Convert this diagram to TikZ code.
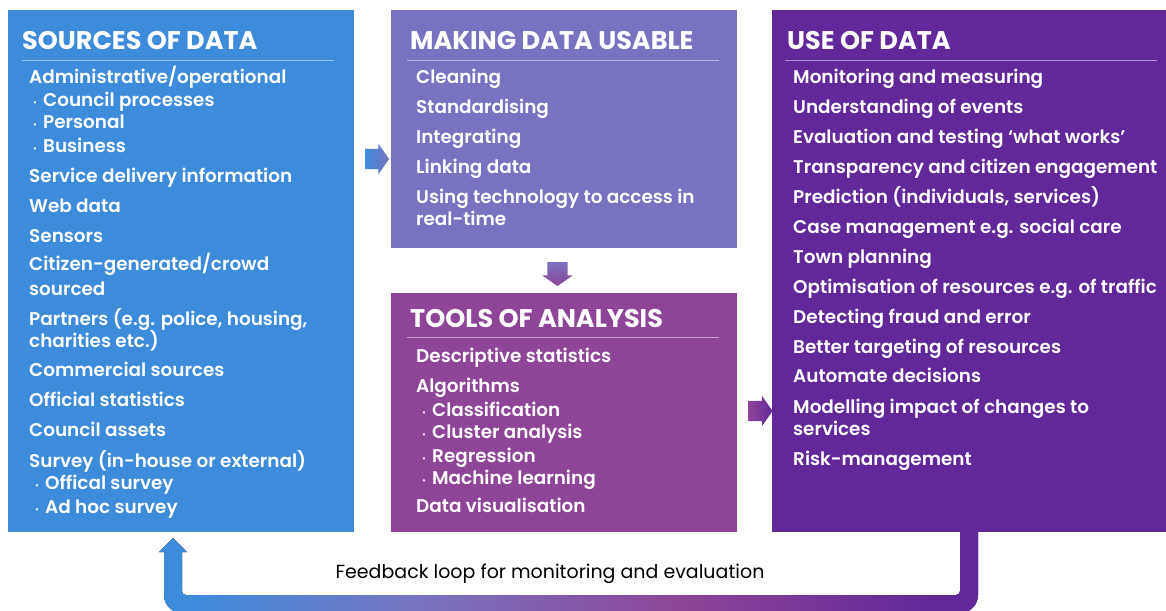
\documentclass[tikz,border=0pt]{standalone}
\usepackage{fontspec}
\setmainfont{Poppins}[UprightFont=* SemiBold, BoldFont=* Bold]
\newfontfamily\plainfont{Poppins}
\usetikzlibrary{shapes.arrows}

\definecolor{srcblue}{HTML}{3D8BDB}
\definecolor{usablelilac}{HTML}{7873C0}
\definecolor{toolsplum}{HTML}{8E4598}
\definecolor{usepurple}{HTML}{62289A}

% blue -> lilac -> plum -> purple along the feedback band
\pgfdeclarehorizontalshading{loopshade}{100bp}{color(0bp)=(srcblue); color(27bp)=(srcblue); color(41bp)=(usablelilac); color(57bp)=(toolsplum); color(72bp)=(usepurple); color(100bp)=(usepurple)}

\newcommand\bul{\makebox[10pt][l]{\raisebox{1pt}{\footnotesize\textbullet}}}

\tikzset{
  panel/.style={anchor=north west, inner sep=0, outer sep=0, minimum width=346pt},
  heading/.style={anchor=base west, inner sep=0, text=white, font=\fontsize{25.5}{28}\selectfont\bfseries},
  entry/.style={anchor=base west, inner sep=0, text=white, font=\fontsize{18.4}{22}\selectfont},
  divider/.style={draw=white!50!#1, line width=0.8pt},
  blockarrow/.style={single arrow, inner xsep=0, inner ysep=10pt, minimum height=24pt, single arrow head extend=5pt, single arrow tip angle=110},
}

\begin{document}
\begin{tikzpicture}[x=1pt, y=-1pt]
  \useasboundingbox (0,0) rectangle (1166,610);

  % Feedback loop (under the panels)
  \fill[shading=loopshade] (173,538) -- (187,552) -- (182,552) [rounded corners=4pt] -- (182,595) -- (960,595) [sharp corners] -- (960,528) -- (978,528) [rounded corners=18pt] -- (978,613) -- (164,613) [sharp corners] -- (164,552) -- (159,552) -- cycle;
  \node[anchor=base, inner sep=0, font=\plainfont\fontsize{19}{22}\selectfont] (fbtext) at (550,578) {Feedback loop for monitoring and evaluation};

  % Panels
  \node[panel, fill=srcblue, minimum height=522pt] (srcbox) at (8,10) {};
  \node[panel, fill=usablelilac, minimum height=238pt] (usablebox) at (391,10) {};
  \node[panel, fill=toolsplum, minimum height=239pt] (toolsbox) at (391,293) {};
  \node[panel, fill=usepurple, minimum width=400pt, minimum height=522pt] (usebox) at (772,10) {};

  % Arrows between panels
  \node[blockarrow, left color=srcblue, right color=usablelilac] (arrA) at (373.5,159) {};
  \node[blockarrow, inner xsep=10pt, inner ysep=0, shape border rotate=270, top color=usablelilac, bottom color=toolsplum] (arrB) at (557.5,270.5) {};
  \node[blockarrow, left color=toolsplum, right color=usepurple] (arrC) at (757,411) {};

  % Sources of data
  \node[heading] (srchead) at (22,50) {SOURCES OF DATA};
  \draw[divider=srcblue] (22,60) -- (334,60);
  \foreach \xx/\yy/\txt [count=\i] in {
      29/83/{Administrative/operational}, 33/106/{\bul Council processes},
      33/128/{\bul Personal}, 33/152/{\bul Business},
      29/182/{Service delivery information}, 29/212/{Web data},
      29/242/{Sensors}, 29/270/{Citizen-generated/crowd}, 29/295/{sourced},
      29/325/{Partners (e.g. police, housing,}, 29/347/{charities etc.)},
      29/376/{Commercial sources}, 29/406/{Official statistics},
      29/436/{Council assets}, 29/467/{Survey (in-house or external)},
      35/489/{\bul Offical survey}, 35/513/{\bul Ad hoc survey}}
    \node[entry] (src-\i) at (\xx,\yy) {\txt};

  % Making data usable
  \node[heading] (usablehead) at (410,50) {MAKING DATA USABLE};
  \draw[divider=usablelilac] (407,60) -- (719,60);
  \foreach \yy/\txt [count=\i] in {
      83/{Cleaning}, 113/{Standardising}, 143/{Integrating}, 173/{Linking data},
      203/{Using technology to access in}, 225/{real-time}}
    \node[entry] (usable-\i) at (416,\yy) {\txt};

  % Tools of analysis
  \node[heading] (toolshead) at (410,327) {TOOLS OF ANALYSIS};
  \draw[divider=toolsplum] (407,337) -- (719,337);
  \foreach \xx/\yy/\txt [count=\i] in {
      416/362/{Descriptive statistics}, 416/392/{Algorithms},
      422/416/{\bul Classification}, 422/438/{\bul Cluster analysis},
      422/462/{\bul Regression}, 422/484/{\bul Machine learning},
      416/512/{Data visualisation}}
    \node[entry] (tools-\i) at (\xx,\yy) {\txt};

  % Use of data
  \node[heading] (usehead) at (787,50) {USE OF DATA};
  \draw[divider=usepurple] (785,60) -- (1157,60);
  \foreach \yy/\txt [count=\i] in {
      83/{Monitoring and measuring}, 113/{Understanding of events},
      143/{Evaluation and testing `what works'}, 173/{Transparency and citizen engagement},
      203/{Prediction (individuals, services)}, 233/{Case management e.g. social care},
      263/{Town planning}, 293/{Optimisation of resources e.g. of traffic},
      323/{Detecting fraud and error}, 353/{Better targeting of resources},
      382/{Automate decisions}, 413/{Modelling impact of changes to},
      435/{services}, 465/{Risk-management}}
    \node[entry] (use-\i) at (793,\yy) {\txt};
\end{tikzpicture}
\end{document}
